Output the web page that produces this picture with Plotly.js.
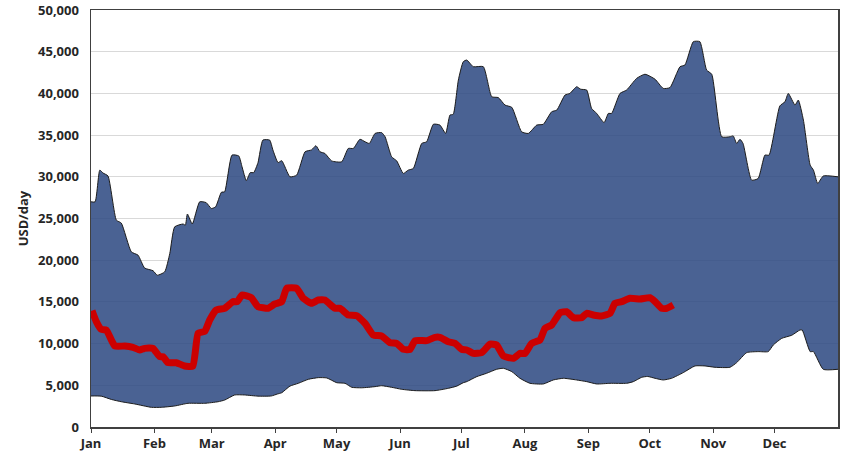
<!DOCTYPE html>
<html>
<head>
<meta charset="utf-8">
<script src="https://cdn.plot.ly/plotly-3.0.1.min.js"></script>
<style>html,body{margin:0;padding:0;background:#fff;}#chart{width:844px;height:456px;}</style>
</head>
<body>
<div id="chart"></div>
<script>
// Day-of-year positions and values (USD/day)
const monthTickDays = [0, 31, 59, 90, 120, 151, 181, 212, 243, 273, 304, 334];
const monthLabels = ["Jan","Feb","Mar","Apr","May","Jun","Jul","Aug","Sep","Oct","Nov","Dec"];
const yTickVals = [0,5000,10000,15000,20000,25000,30000,35000,40000,45000,50000];
const yTickText = ["0","5,000","10,000","15,000","20,000","25,000","30,000","35,000","40,000","45,000","50,000"];

// Upper envelope (max)
const maxDays = [0,2,4.3,5.9,8.3,12.4,14.8,19.7,23,26.2,30.3,32.4,36,38.5,40.9,45,46.1,47.1,49.5,53.1,56.3,58.8,60.9,63.7,65.3,68.9,72.2,73.8,75.9,77.8,79.5,81.6,84,87.3,88.9,91.4,93.2,97.2,100.5,104.6,107.8,109.9,111.9,114.3,117.6,122.5,125.7,128.2,131.4,133.9,136,138.8,142,143.7,146.9,149.4,152.6,155,157.5,161.6,164,167.3,170.5,173.3,175.4,177,179.5,181.9,183.6,186.8,191.7,195.8,199,202.3,205.6,210.4,213.7,217.8,221,225.1,227.6,231.6,234,237.3,239.3,242.2,244.6,247.1,250.7,252.8,254.4,258.5,261.7,266.6,270.7,275.6,279.6,282.9,287.8,290.2,294.3,297.5,300.8,303.3,308.2,312.2,313.8,315.5,317.1,318.6,322.8,326,329.3,331.3,336.6,339.1,340.7,344,345.6,348.1,351.4,353,355.1,357.8,365];
const maxVals = [27000,27000,30800,30450,30100,24800,24450,21000,20600,19060,18740,18200,18600,20800,24000,24340,24200,25540,24340,27000,26900,26200,26400,28140,28200,32600,32500,31200,29530,30500,30500,31700,34400,34400,33200,31700,31930,30000,30200,33000,33230,33730,33000,32800,31900,31800,33400,33400,34500,34200,34000,35200,35300,34800,32400,31900,30400,30800,31000,34000,34200,36300,36200,35200,37400,37500,41600,43800,44000,43200,43200,39600,39500,38600,38330,35400,35200,36200,36300,37800,38000,39800,40000,40800,40500,40400,38200,37600,36500,37600,37600,40000,40400,41800,42300,41700,40600,40700,43200,43400,46200,46200,42800,42300,34800,34800,34900,34000,34500,34000,29600,29800,32600,32600,38500,39000,40000,38600,39200,36800,31400,30800,29200,30100,30000];

// Lower envelope (min)
const minDays = [0,5,10,14.8,21.4,29.5,34.3,40.9,47.4,55.6,62.1,65.3,70.2,75.1,81.6,88.1,91,93.2,97.2,101.3,106.2,111.1,115.2,120.1,124.1,127.4,132.3,138.8,142,146.9,151.8,158.3,168.1,174.6,178.7,181.9,183.6,188.5,193.3,198.2,201.5,205.6,209.6,214.5,221,225.9,230.8,237.3,242.2,247.1,253.6,261.7,265,269.1,272,275.6,279.6,283.7,289.4,295.1,300,304.9,312.2,315.5,320.4,326,330.9,333.4,337.5,342.4,346.4,347.5,351.4,353,357.8,365];
const minVals = [3720,3700,3300,3030,2760,2360,2360,2520,2840,2840,3030,3230,3840,3840,3700,3720,3950,4110,4900,5240,5720,5920,5880,5310,5240,4760,4700,4840,4950,4760,4520,4360,4360,4640,4900,5310,5440,6040,6440,6920,7040,6640,5840,5240,5160,5640,5840,5640,5440,5160,5240,5240,5440,5960,6060,5840,5640,5840,6520,7320,7320,7160,7160,7720,8920,9040,9040,9840,10630,11000,11630,11630,9040,9040,6920,6920];

// Current year (red)
const curDays = [0.5,2.6,5,7.5,11.6,16.5,20.5,23.8,26.2,30.3,33.6,35.2,37.6,41.7,45.8,49.8,52.3,55.6,58,61.2,65.3,69.4,71.5,73.8,78.3,81.6,86.5,89.8,93.2,95.6,100.5,103.7,107.8,111.1,114.3,119.2,121.7,125.7,129.8,133.9,137.9,142,146.1,149.4,152.6,155.9,158.3,164,168.1,170.5,174.6,177.9,181.1,183.6,186.8,190.9,195,198.2,201.5,206.4,209.6,212.1,215.3,219.4,221.8,225.1,229.2,232.4,235.7,239.8,242.2,245.4,249.5,253.6,256,259.3,263.3,268.3,273.1,275.6,278.8,281.3,284.5];
const curVals = [13950,12630,11710,11630,9710,9710,9550,9230,9430,9430,8430,8430,7710,7710,7310,7310,11230,11470,12830,14030,14230,15030,15030,15830,15510,14430,14230,14750,15030,16630,16630,15430,14830,15230,15230,14230,14230,13430,13350,12430,11030,10910,10110,10030,9310,9310,10350,10350,10750,10750,10230,10030,9310,9230,8830,8910,9950,9830,8510,8230,8830,8830,10030,10430,11830,12230,13700,13830,13110,13110,13630,13430,13310,13630,14830,15030,15430,15350,15510,15030,14230,14230,14630];

const FONT = "'Open Sans', 'Noto Sans', sans-serif";

const traces = [
  {
    x: maxDays, y: maxVals, type: 'scatter', mode: 'lines',
    line: {color: '#1c1c1c', width: 1, shape: 'spline', smoothing: 0.5},
    fill: 'tozeroy', fillcolor: 'rgba(42,70,128,0.85)', hoverinfo: 'skip', showlegend: false
  },
  {
    x: minDays, y: minVals, type: 'scatter', mode: 'lines',
    line: {color: '#1c1c1c', width: 1, shape: 'spline', smoothing: 0.5},
    fill: 'tozeroy', fillcolor: '#ffffff', hoverinfo: 'skip', showlegend: false
  },
  {
    x: curDays, y: curVals, type: 'scatter', mode: 'lines',
    line: {color: '#cc0000', width: 7, shape: 'spline', smoothing: 0.4},
    hoverinfo: 'skip', showlegend: false
  }
];

const layout = {
  width: 844, height: 456,
  margin: {l: 91, r: 6, t: 10, b: 29},
  paper_bgcolor: '#ffffff', plot_bgcolor: '#ffffff',
  font: {family: FONT, size: 13, color: '#262626', weight: 'bold'},
  showlegend: false,
  xaxis: {
    range: [0, 365], tickmode: 'array', tickvals: monthTickDays, ticktext: monthLabels,
    showgrid: false, zeroline: false,
    showline: true, linecolor: '#404040', linewidth: 1.5, mirror: true,
    ticks: 'outside', ticklen: 4, tickcolor: '#404040', tickwidth: 1,
    tickfont: {family: FONT, size: 13, color: '#262626', weight: 'bold'}
  },
  yaxis: {
    range: [0, 50000], tickmode: 'array', tickvals: yTickVals, ticktext: yTickText,
    showgrid: true, gridcolor: '#d9d9d9', gridwidth: 1, zeroline: false,
    showline: true, linecolor: '#404040', linewidth: 1.5, mirror: true,
    ticks: 'outside', ticklen: 8, tickcolor: 'rgba(0,0,0,0)',
    tickfont: {family: FONT, size: 13, color: '#262626', weight: 'bold'},
    title: {text: 'USD/day', font: {family: FONT, size: 13, color: '#262626', weight: 'bold'}, standoff: 6}
  }
};

Plotly.newPlot('chart', traces, layout, {staticPlot: true, displayModeBar: false});
</script>
</body>
</html>
